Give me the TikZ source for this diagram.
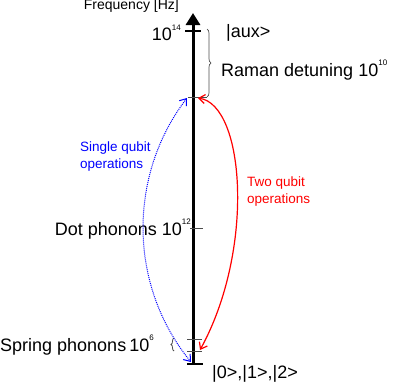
\documentclass[tikz,border=0pt]{standalone}
\usepackage{fontspec}
\setmainfont{Liberation Sans}
\usepackage{tikz}
\usetikzlibrary{arrows.meta,decorations.pathreplacing}

\newcommand\expo[1]{\raisebox{1.1ex}{\fontsize{8}{8}\selectfont #1}}

\begin{document}
\begin{tikzpicture}[x=1pt,y=-1pt,
    big/.style={font=\fontsize{18}{20}\selectfont, inner sep=0pt},
    ops/.style={font=\fontsize{13.5}{17}\selectfont, align=left, inner sep=0pt},
    axislabel/.style={font=\fontsize{14}{16}\selectfont, inner sep=0pt},
    level/.style={black!70, line width=1pt},
    trans/.style={{Straight Barb[length=6pt,width=9pt]}-{Straight Barb[length=6pt,width=9pt]}}]
  \useasboundingbox (0,0) rectangle (400,383);

  % Draw axis
  \coordinate (base) at (193,364);
  \coordinate (top) at (193,13);
  \draw[line width=3pt, -{Triangle[length=12pt,width=14pt]}] (base) -- (top);
  \node[axislabel, anchor=east] (freq) at (179,6) {Frequency [Hz]};

  % Draw levels
  \draw[black, line width=1.5pt] (185,31) -- (201,31);
  \draw[level] (188,97) -- (207,97);
  \draw[level] (190,228) -- (203,228);
  \foreach \y in {339,351} {
    \draw[level] (187,\y) -- (202,\y);
  }
  \draw[black, line width=2.5pt] (187,364) -- (203,364);

  % Add braces
  \draw[level, line width=0.7pt, decorate, decoration={brace,amplitude=4pt}] (207,29) -- (207,97);
  \draw[black!70, line width=0.8pt, decorate, decoration={brace,amplitude=3pt}] (174,351) -- (174,338);

  % Add labels
  \node[big, anchor=east] (e14) at (181,33) {10\expo{14}};
  \node[big, anchor=west] (aux) at (226,33) {|aux>};
  \node[big, anchor=west] (raman) at (221,70) {Raman detuning 10\expo{10}};
  \node[big, anchor=east] (dot) at (191,229) {Dot phonons 10\expo{12}};
  \node[big, anchor=west] (spring) at (0,345) {Spring phonons\,10\expo{6}};
  \node[big, anchor=west] (ground) at (212,374) {|0>,|1>,|2>};
  \node[ops, blue, anchor=west] (single) at (80,157) {Single qubit\\operations};
  \node[ops, red, anchor=west] (two) at (247,192) {Two qubit\\operations};

  % Draw transitions
  \coordinate (ramanL) at (187,98);
  \coordinate (ramanR) at (198,98);
  \coordinate (groundL) at (191,362);
  \coordinate (springR) at (200,350);
  \draw[blue, dash pattern=on 1pt off 1pt, line width=1pt, trans] (ramanL) .. controls (128,175) and (128,285) .. (groundL);
  \draw[red, line width=1.2pt, trans] (ramanR) .. controls (245,105) and (255,250) .. (springR);
\end{tikzpicture}
\end{document}
